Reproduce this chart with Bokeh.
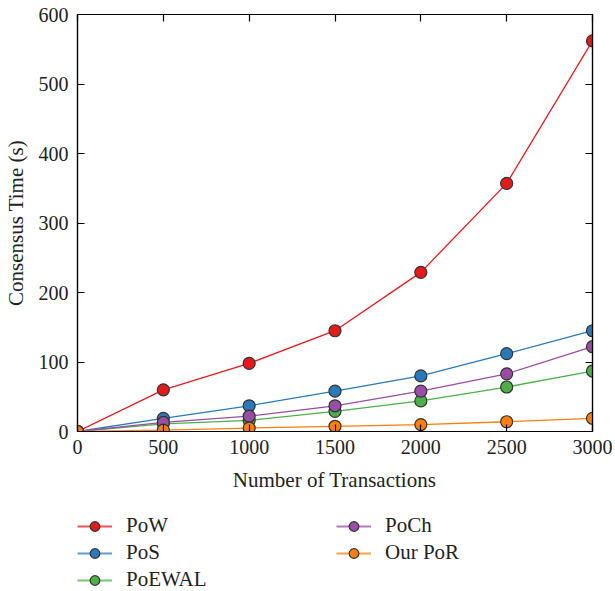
from bokeh.plotting import figure
from bokeh.models import Range1d, LinearAxis, Legend, LegendItem, FixedTicker, Label
from bokeh.layouts import column
from bokeh.embed import file_html
from bokeh.resources import INLINE

transactions = [0, 500, 1000, 1500, 2000, 2500, 3000]
pow_vals = [0, 60, 98, 145, 229, 357, 562]
pos_vals = [0, 19, 37, 58, 80, 112, 145]
poewal_vals = [0, 11, 16, 29, 44, 64, 87]
poch_vals = [0, 13, 22, 37, 58, 83, 122]
por_vals = [0, 2, 5, 7.5, 10, 14, 19]
y_ticks = [0, 100, 200, 300, 400, 500, 600]

series = [
    ("PoW", pow_vals, "#e41a1c"),
    ("PoS", pos_vals, "#2a7ab9"),
    ("PoEWAL", poewal_vals, "#4daf4a"),
    ("PoCh", poch_vals, "#984ea3"),
    ("Our PoR", por_vals, "#ff7f0e"),
]

FONT = "Liberation Serif"
TICK_FS = "20px"
LAB_FS = "21px"
W = 612

p = figure(output_backend="svg", toolbar_location=None,
           width=W, height=461,
           x_range=Range1d(0, 3000), y_range=Range1d(0, 600),
           min_border_left=70, min_border_right=20, min_border_top=14,
           min_border_bottom=30)
p.background_fill_color = "white"
p.border_fill_color = "white"
p.outline_line_color = "black"
p.outline_line_width = 1.2
p.xgrid.visible = False
p.ygrid.visible = False

for name, vals, col in series:
    p.line(transactions, vals, line_color=col, line_width=1.3)
    p.scatter(transactions, vals, size=12, fill_color=col,
              line_color="#333333", line_width=1.2)

xt = FixedTicker(ticks=transactions)
yt = FixedTicker(ticks=y_ticks)

def style(ax, labels=True):
    ax.major_tick_in = 7
    ax.major_tick_out = 0
    ax.minor_tick_line_color = None
    ax.axis_line_color = "black"
    ax.axis_line_width = 1.2
    ax.major_tick_line_color = "black"
    ax.major_tick_line_width = 1.2
    if labels:
        ax.major_label_text_font = FONT
        ax.major_label_text_font_size = TICK_FS
        ax.major_label_text_color = "#222222"
        ax.axis_label_text_font = FONT
        ax.axis_label_text_font_size = LAB_FS
        ax.axis_label_text_font_style = "normal"
        ax.axis_label_text_color = "#222222"

p.xaxis.ticker = xt
p.yaxis.ticker = yt
p.yaxis.axis_label = "Consensus Time (s)"
style(p.xaxis[0])
style(p.yaxis[0])
p.xaxis.major_label_standoff = 8
p.yaxis.major_label_standoff = 9
p.yaxis.axis_label_standoff = 8

top = LinearAxis(ticker=xt, major_label_overrides={t: "" for t in transactions})
right = LinearAxis(ticker=yt, major_label_overrides={t: "" for t in y_ticks})
style(top, False)
style(right, False)
top.major_label_standoff = 0
right.major_label_standoff = 0
p.add_layout(top, "above")
p.add_layout(right, "right")

# lower figure: x-axis title and legend
H2 = 132
q = figure(output_backend="svg", toolbar_location=None,
           width=W, height=H2,
           x_range=Range1d(-2, -1), y_range=Range1d(-2, -1),
           min_border_left=0, min_border_right=0, min_border_top=0,
           min_border_bottom=0, x_axis_location=None, y_axis_location=None)
q.outline_line_color = None
q.xgrid.visible = False
q.ygrid.visible = False

items = []
for name, vals, col in series:
    r1 = q.line(transactions, vals, line_color=col, line_width=2, line_alpha=0.75)
    r2 = q.scatter(transactions, vals, size=12, fill_color=col,
                   line_color="#333333", line_width=1.2)
    items.append(LegendItem(label=name, renderers=[r1, r2]))

q.add_layout(Label(x=257, y=H2 - 18, x_units="screen", y_units="screen",
                   text="Number of Transactions", text_font=FONT,
                   text_font_size=LAB_FS, text_color="#222222",
                   text_align="center", text_baseline="middle"))

legend = Legend(items=items, ncols=2, location=(0, 1),
                orientation="vertical",
                label_text_font=FONT, label_text_font_size=LAB_FS,
                label_text_color="#222222",
                glyph_width=35, glyph_height=24, label_standoff=14,
                label_width=208, label_height=24, spacing=2,
                padding=0, margin=0,
                border_line_color=None, background_fill_alpha=0)
q.add_layout(legend, "center")

layout = column(p, q, spacing=0)
open("out.html", "w").write(file_html(layout, INLINE))
